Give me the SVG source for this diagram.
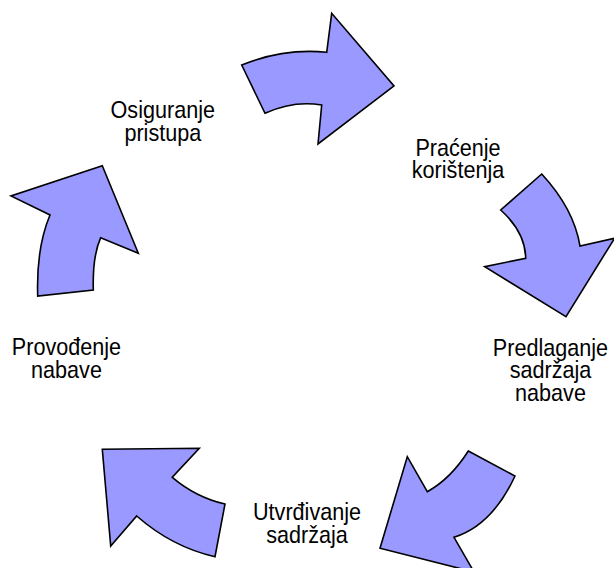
<svg xmlns="http://www.w3.org/2000/svg" width="614" height="568" viewBox="0 0 614 568">
<style>
.arr{fill:#9999FF;stroke:#000;stroke-width:1.6;stroke-linejoin:miter}
.lbl{font-family:"Liberation Sans",Arial,sans-serif;font-size:24px;fill:#000;text-anchor:middle}
</style>
<rect width="614" height="568" fill="#fff"/>
<g id="connectors">
<path class="arr" d="M241.7,65 Q283.8,47.95 326.7,52.3 L331.7,13.3 L394,86 L318,144 L321.7,105 Q293.3,100.2 265,113.3 Z"/>
<path class="arr" d="M541.7,174 Q573.8,208.6 580,246 L614.5,238.3 L566,316.7 L484.7,266.7 L525.7,258.3 Q525.4,232.5 500.7,210 Z"/>
<path class="arr" d="M468.3,451 L515,476 Q492.1,525.35 454,537.3 L474,572 L380,548.3 L407.3,456.7 L427.3,491.7 Q450.8,478.65 468.3,451 Z"/>
<path class="arr" d="M102.3,449.3 L199.3,448.3 L172.3,477.3 Q195.95,497.35 225,504 L215,556.7 Q172.15,547.05 136.7,516 L110.7,546 Z"/>
<path class="arr" d="M102.3,165.7 L138.3,253.3 L100.7,237.7 Q92.4,256.15 93.3,290 L37.7,296 Q36.15,247.9 50,215 L11,196 Z"/>
</g>
<g id="node-osiguranje">
<text class="lbl" transform="translate(162.8,118) scale(0.9,1)"><tspan x="0" y="0">Osiguranje</tspan><tspan x="0" y="22.7">pristupa</tspan></text>
</g>
<g id="node-pracenje">
<text class="lbl" transform="translate(458,155.7) scale(0.9,1)"><tspan x="0" y="0">Praćenje</tspan><tspan x="0" y="22.7">korištenja</tspan></text>
</g>
<g id="node-predlaganje">
<text class="lbl" transform="translate(550.5,355.7) scale(0.9,1)"><tspan x="0" y="0">Predlaganje</tspan><tspan x="0" y="22.7">sadržaja</tspan><tspan x="0" y="45.4">nabave</tspan></text>
</g>
<g id="node-utvrdivanje">
<text class="lbl" transform="translate(307,520) scale(0.9,1)"><tspan x="0" y="0">Utvrđivanje</tspan><tspan x="0" y="22.7">sadržaja</tspan></text>
</g>
<g id="node-provodenje">
<text class="lbl" transform="translate(66.5,355) scale(0.9,1)"><tspan x="0" y="0">Provođenje</tspan><tspan x="0" y="22.7">nabave</tspan></text>
</g>
</svg>
